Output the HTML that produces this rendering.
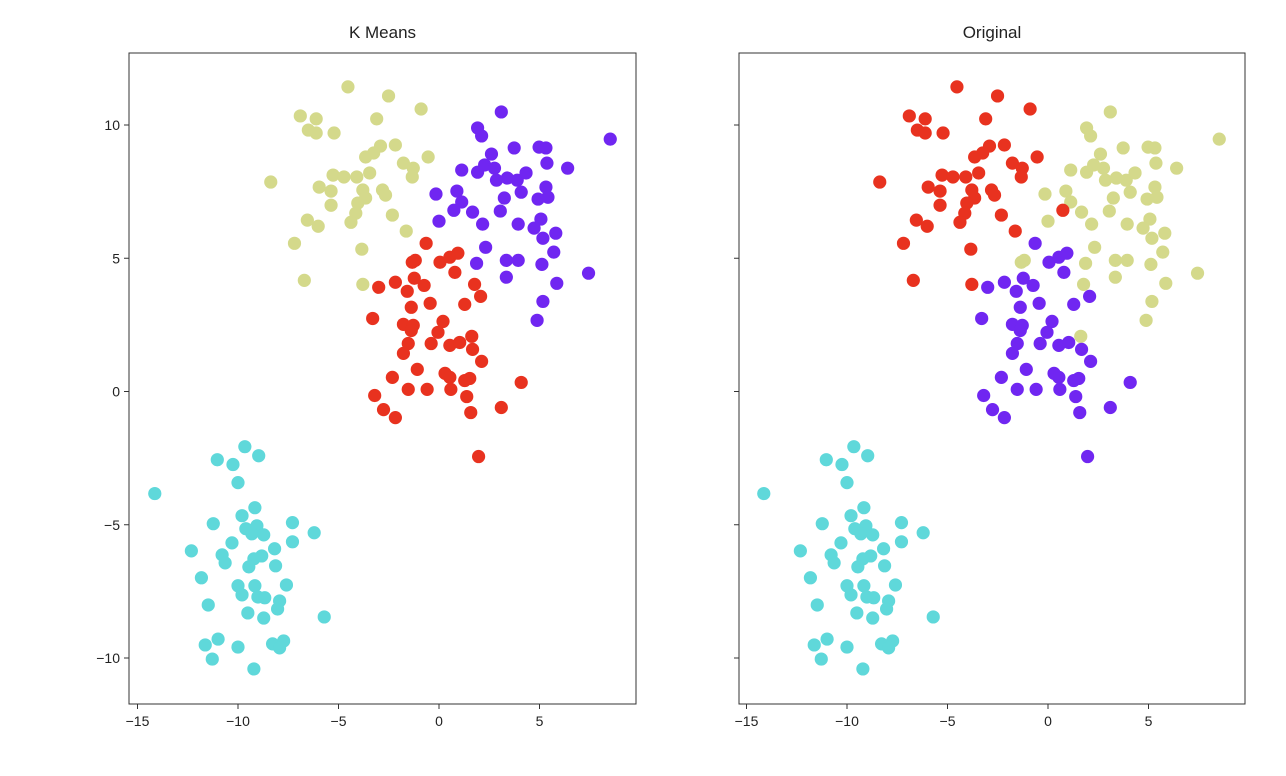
<!DOCTYPE html>
<html><head><meta charset="utf-8"><style>
html,body{margin:0;padding:0;background:#fff;}
svg{display:block;font-family:"Liberation Sans","DejaVu Sans",sans-serif;}
</style></head><body>
<svg id="chart" width="1286" height="776" viewBox="0 0 1286 776" xmlns="http://www.w3.org/2000/svg"></svg>
<script>
// ---- data ----
const yellowX=[-4.53,-2.51,-0.89,-6.90,-6.11,-3.10,-6.50,-6.11,-5.22,-2.91,-2.17,-3.25,-3.65,-0.54,-1.77,-1.28,-1.33,-8.37,-5.27,-4.73,-4.09,-3.45,-5.96,-5.37,-5.37,-3.79,-3.65,-2.81,-2.66,-4.04,-4.14,-4.38,-2.32,-6.55,-6.01,-1.63,-7.19,-3.84,-6.70,-3.79];
const yellowY=[11.43,11.09,10.60,10.34,10.23,10.23,9.81,9.70,9.70,9.21,9.25,8.95,8.80,8.80,8.57,8.38,8.05,7.86,8.12,8.05,8.05,8.20,7.67,7.52,6.99,7.56,7.26,7.56,7.37,7.07,6.69,6.35,6.62,6.43,6.20,6.02,5.56,5.34,4.17,4.02];
const purpleX=[3.10,1.92,2.12,8.52,3.74,4.98,5.32,2.61,5.37,6.40,1.13,1.92,2.27,2.76,2.86,3.40,3.89,4.33,4.09,5.32,4.93,5.42,-0.15,0.89,1.13,3.25,3.05,0.74,1.67,0.00,2.17,3.94,5.07,4.73,5.17,5.81,2.32,5.71,1.87,3.35,3.94,5.12,3.35,7.44,5.86,5.17,4.88];
const purpleY=[10.49,9.89,9.59,9.47,9.14,9.17,9.14,8.91,8.57,8.38,8.31,8.23,8.50,8.38,7.93,8.01,7.93,8.20,7.48,7.67,7.22,7.29,7.41,7.52,7.11,7.26,6.77,6.80,6.73,6.39,6.28,6.28,6.47,6.13,5.75,5.94,5.41,5.23,4.81,4.92,4.92,4.77,4.29,4.44,4.06,3.38,2.67];
const redX=[-0.64,-1.33,-1.18,0.05,0.54,0.94,0.79,-2.17,-3.00,-1.23,-0.74,-1.58,1.77,2.07,-0.44,1.28,-1.38,-3.30,-1.77,-1.28,-1.38,0.20,-0.05,-0.39,-1.53,-1.77,0.54,1.03,1.63,1.67,2.12,-1.08,-2.32,0.30,0.54,1.28,1.53,0.59,-1.53,-0.59,-3.20,1.38,-2.76,-2.17,1.58,3.10,4.09,1.97];
const redY=[5.56,4.85,4.92,4.85,5.04,5.19,4.47,4.10,3.91,4.25,3.98,3.76,4.02,3.57,3.31,3.27,3.16,2.74,2.52,2.48,2.29,2.63,2.22,1.80,1.80,1.43,1.73,1.84,2.07,1.58,1.13,0.83,0.53,0.68,0.53,0.41,0.49,0.08,0.08,0.08,-0.15,-0.19,-0.68,-0.98,-0.79,-0.60,0.34,-2.44];
const cyanX=[-9.66,-11.03,-8.97,-10.25,-10.00,-14.14,-9.16,-9.80,-11.23,-7.29,-6.21,-9.61,-9.06,-9.31,-8.72,-7.29,-10.30,-12.32,-8.18,-10.79,-10.64,-8.82,-9.21,-9.46,-8.13,-11.82,-10.00,-9.16,-7.59,-9.80,-9.01,-8.67,-7.93,-8.03,-11.48,-9.51,-8.72,-5.71,-10.99,-11.63,-10.00,-8.28,-7.73,-7.93,-11.28,-9.21];
const cyanY=[-2.07,-2.56,-2.41,-2.74,-3.42,-3.83,-4.36,-4.66,-4.96,-4.92,-5.30,-5.15,-5.04,-5.34,-5.38,-5.64,-5.68,-5.98,-5.90,-6.13,-6.43,-6.17,-6.28,-6.58,-6.54,-6.99,-7.29,-7.29,-7.26,-7.63,-7.71,-7.74,-7.86,-8.16,-8.01,-8.31,-8.50,-8.46,-9.29,-9.51,-9.59,-9.47,-9.36,-9.62,-10.04,-10.41];
const xTicks=[-15,-10,-5,0,5];
const yTicks=[-10,-5,0,5,10];
const panelTitles=["K Means","Original"];
const redGroupOriginalYellow=[1,2,12,28];
const purpleGroupOriginalRed=[27];

const xs=[].concat(yellowX,purpleX,redX,cyanX);
const ys=[].concat(yellowY,purpleY,redY,cyanY);
const kmeansLabels=[].concat(yellowX.map(()=>2),purpleX.map(()=>0),redX.map(()=>3),cyanX.map(()=>1));
const originalLabels=[].concat(
  yellowX.map(()=>3),
  purpleX.map((v,i)=>purpleGroupOriginalRed.includes(i)?3:2),
  redX.map((v,i)=>redGroupOriginalYellow.includes(i)?2:0),
  cyanX.map(()=>1));
const colors=["#7026f1","#5fd8da","#d4d98b","#e8321f"];

const NS="http://www.w3.org/2000/svg";
const svg=document.getElementById('chart');
function mk(tag,attrs,parent){const e=document.createElementNS(NS,tag);for(const k in attrs)e.setAttribute(k,attrs[k]);(parent||svg).appendChild(e);return e;}

const panels=[{left:129,right:636,x0:439,labels:kmeansLabels,name:'kmeans'},{left:739,right:1245,x0:1048,labels:originalLabels,name:'original'}];
const TOP_Y=53,BOTTOM_Y=704,Y0=391.5,YS=26.65,XS=20.1;
panels.forEach((p,pi)=>{
  const g=mk('g',{});
  
  
  const xScale=v=>p.x0+v*XS;
  const yScale=v=>Y0-v*YS;
  for(let i=0;i<xs.length;i++){
    const c=mk('circle',{cx:xScale(xs[i]),cy:yScale(ys[i]),r:6.6,fill:colors[p.labels[i]]},g);
    
    
  }
  const fr=mk('rect',{x:p.left,y:TOP_Y,width:p.right-p.left,height:BOTTOM_Y-TOP_Y,fill:'none',stroke:'#333','stroke-width':1},g);
  
  
  xTicks.forEach(t=>{
    const x=xScale(t);
    mk('line',{x1:x,x2:x,y1:BOTTOM_Y,y2:BOTTOM_Y+5,stroke:'#333'},g);
    const tx=mk('text',{x:x,y:BOTTOM_Y+22,'text-anchor':'middle','font-size':14,fill:'#222'},g);
    tx.textContent=(t<0?'\u2212'+(-t):String(t));
    
    
  });
  yTicks.forEach(t=>{
    const y=yScale(t);
    mk('line',{x1:p.left-5,x2:p.left,y1:y,y2:y,stroke:'#333'},g);
    if(pi===0){
      const ty=mk('text',{x:p.left-9,y:y+5,'text-anchor':'end','font-size':14,fill:'#222'},g);
      ty.textContent=(t<0?'\u2212'+(-t):String(t));
      
      
    }
  });
  const ti=mk('text',{x:(p.left+p.right)/2,y:38,'text-anchor':'middle','font-size':17,fill:'#222'},g);
  ti.textContent=panelTitles[pi];
  
  
});
</script>
</body></html>
